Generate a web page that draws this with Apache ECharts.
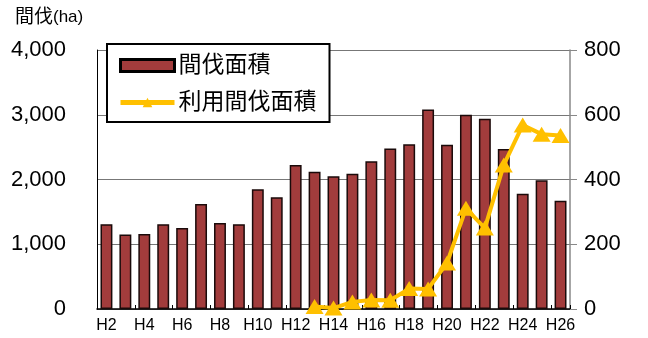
<!DOCTYPE html>
<html><head><meta charset="utf-8">
<script src="https://cdn.jsdelivr.net/npm/echarts@6/dist/echarts.min.js"></script>
<style>html,body{margin:0;padding:0;background:#fff}#c{width:648px;height:338px}</style>
</head><body><div id="c"></div>
<script>
const categories = ['H2','H3','H4','H5','H6','H7','H8','H9','H10','H11','H12','H13','H14','H15','H16','H17','H18','H19','H20','H21','H22','H23','H24','H25','H26'];
const thinningArea = [1310,1150,1160,1310,1250,1620,1330,1310,1850,1725,2225,2120,2050,2090,2280,2480,2545,3080,2535,3000,2940,2470,1780,1990,1670];
const usedThinningArea = [null,null,null,null,null,null,null,null,null,null,null,8,3,22,28,27,63,62,142,311,250,445,568,540,536];
const leftTicks = [0,1000,2000,3000,4000];
const rightTicks = [0,200,400,600,800];

const chart = echarts.init(document.getElementById('c'));
const font = '"Liberation Sans", Arial, "Noto Sans CJK JP", sans-serif';
chart.setOption({
  animation:false,
  textStyle:{fontFamily:font},
  grid:{left:97,right:78,top:50,bottom:29},
  graphic:[{type:'text',left:15,top:8,style:{text:'間伐{s|(ha)}',fontSize:19,fontFamily:font,fill:'#000',rich:{s:{fontSize:17,fontFamily:font}}}}],
  legend:{
    orient:'vertical',left:107,top:44,
    backgroundColor:'#fff',borderColor:'#000',borderWidth:2,borderRadius:0,
    padding:[10,13,8,11],itemGap:14,itemWidth:54,itemHeight:12,
    textStyle:{fontSize:23,color:'#000',fontFamily:font,padding:[0,0,0,-1]},
    data:[
      {name:'間伐面積',icon:'rect',itemStyle:{borderColor:'#000',borderWidth:3,color:'#a23c3c'}},
      {name:'利用間伐面積',lineStyle:{width:5,color:'#ffc000'}}
    ]
  },
  xAxis:{
    type:'category',data:categories,
    axisLine:{lineStyle:{color:'#000',width:1.5}},
    axisTick:{show:true,inside:true,length:4,lineStyle:{color:'#000'}},
    axisLabel:{interval:1,color:'#000',fontSize:16,margin:9,fontFamily:font}
  },
  yAxis:[{
    type:'value',min:0,max:4000,interval:1000,
    axisLine:{show:true,lineStyle:{color:'#000'}},
    axisTick:{show:false},
    splitLine:{lineStyle:{color:'#777',width:1}},
    axisLabel:{color:'#000',fontSize:22,margin:31,fontFamily:font,
      formatter:v=>leftTicks.includes(v)?v.toLocaleString('en-US'):''}
  },{
    type:'value',min:0,max:800,interval:200,
    axisLine:{show:true,lineStyle:{color:'#888',width:1.5}},
    axisTick:{show:true,length:7,lineStyle:{color:'#888'}},
    splitLine:{show:false},
    axisLabel:{color:'#000',fontSize:22,margin:14,fontFamily:font,
      formatter:v=>rightTicks.includes(v)?String(v):''}
  }],
  series:[{
    name:'間伐面積',type:'bar',data:thinningArea,barWidth:'63%',
    itemStyle:{color:'#a23c3c',borderColor:'#1a0a0a',borderWidth:1.5}
  },{
    name:'利用間伐面積',type:'line',yAxisIndex:1,data:usedThinningArea,
    symbol:'triangle',symbolSize:[18,15],showAllSymbol:true,
    lineStyle:{color:'#ffc000',width:4},
    itemStyle:{color:'#ffc000'},z:5
  }]
});
</script></body></html>
